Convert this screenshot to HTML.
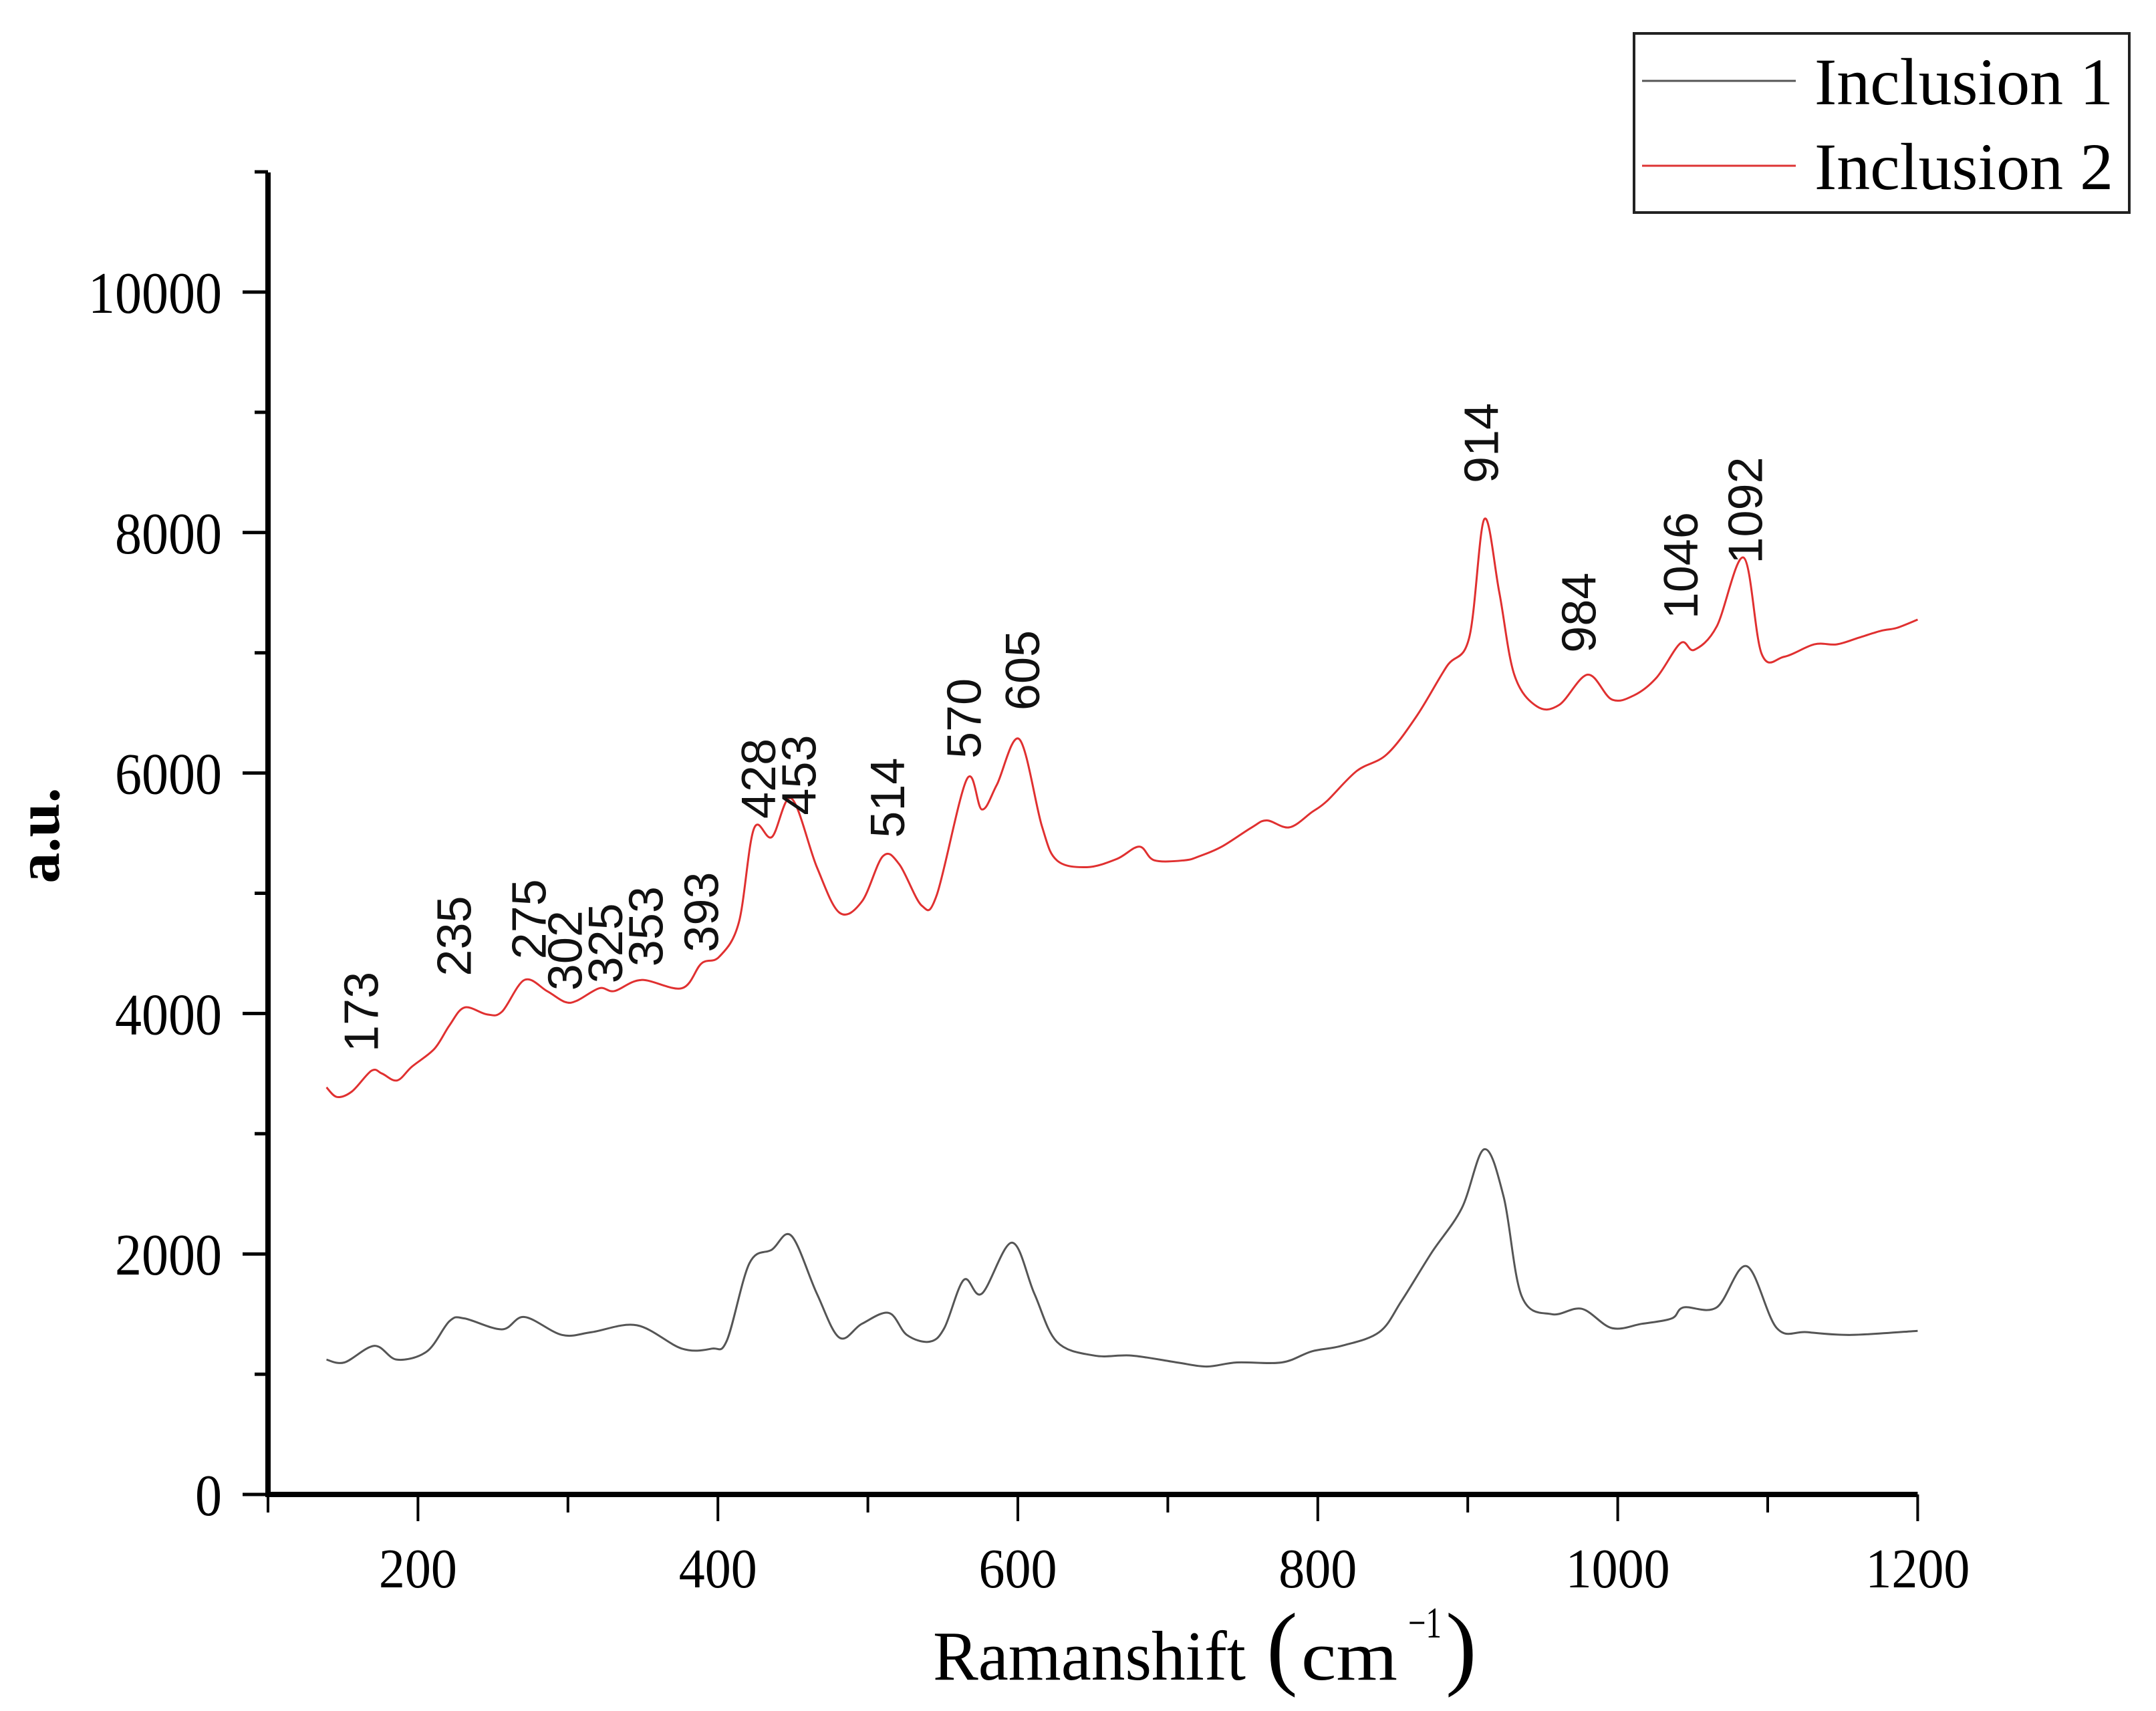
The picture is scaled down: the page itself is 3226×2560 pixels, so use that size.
<!DOCTYPE html>
<html><head><meta charset="utf-8"><style>
html,body{margin:0;padding:0;background:#fff;}
svg{display:block;}
</style></head><body>
<svg id="chart" width="3226" height="2560" viewBox="0 0 3226 2560" xmlns="http://www.w3.org/2000/svg">
  <g id="axes"></g>
  <g id="series"></g>
  <g id="peaks"></g>
  <text transform="translate(88,1250) rotate(-90)" text-anchor="middle" font-family="Liberation Serif, serif" font-weight="bold" font-size="92">a.u.</text>
  <g font-family="Liberation Serif, serif">
    <text x="1396" y="2513" font-size="105" textLength="468" lengthAdjust="spacingAndGlyphs">Ramanshift</text>
    <text x="1895" y="2510" font-size="140" font-weight="normal">(</text>
    <text x="1947" y="2513" font-size="105" textLength="144" lengthAdjust="spacingAndGlyphs">cm</text>
    <text x="2107" y="2450" font-size="66" textLength="50" lengthAdjust="spacingAndGlyphs">−1</text>
    <text x="2163" y="2510" font-size="140">)</text>
  </g>
  <g>
    <rect x="2445" y="50" width="741" height="268" fill="#fff" stroke="#222" stroke-width="4"/>
    <line x1="2457" y1="121" x2="2687" y2="121" stroke="#555" stroke-width="3"/>
    <text x="2715" y="156" font-family="Liberation Serif, serif" font-size="100">Inclusion 1</text>
    <line x1="2457" y1="248" x2="2687" y2="248" stroke="#d33" stroke-width="3"/>
    <text x="2715" y="283" font-family="Liberation Serif, serif" font-size="100">Inclusion 2</text>
  </g>
</svg>
<script>
const xs1 = [139,151,171,186,206,221,231,256,271,296,316,346,376,396,406,421,436,449,466,481,496,514,526,541,551,564,576,596,611,626,651,676,706,726,746,776,796,816,841,856,876,896,911,924,936,956,976,996,1016,1036,1044,1066,1086,1106,1126,1156,1200];
const inclusion1 = [1121,1098,1236,1121,1190,1441,1464,1373,1476,1327,1350,1407,1213,1213,1281,1922,2036,2151,1670,1304,1419,1510,1327,1270,1384,1785,1670,2094,1670,1270,1155,1155,1098,1064,1098,1098,1190,1236,1350,1613,2013,2380,2871,2471,1647,1499,1544,1384,1419,1464,1556,1556,1899,1384,1350,1327,1361];
const xs2 = [139,146,156,169,176,186,196,211,221,231,246,256,271,286,298,306,321,331,349,376,389,401,414,424,436,449,466,481,496,510,521,536,546,566,576,586,601,616,626,646,666,681,691,711,721,736,756,766,781,796,806,826,846,866,886,901,911,921,931,946,961,980,996,1011,1026,1042,1051,1066,1084,1096,1111,1131,1146,1161,1176,1186,1200];
const inclusion2 = [3386,3306,3352,3524,3501,3443,3558,3707,3901,4050,3993,4015,4279,4187,4096,4107,4210,4187,4279,4210,4416,4473,4759,5537,5468,5789,5217,4839,4931,5308,5240,4896,4988,5949,5697,5903,6281,5560,5274,5217,5285,5388,5274,5274,5308,5388,5548,5606,5548,5674,5766,6017,6155,6475,6887,7127,8111,7505,6818,6555,6567,6818,6612,6647,6795,7081,7024,7219,7791,6990,6967,7070,7070,7127,7184,7207,7276];
const peakLabels = ["173","235","275","302","325","353","393","428","453","514","570","605","914","984","1046","1092"];
const peakX = [167,229,279,303,330,357,394,432,459,518,569,608,914,979,1047,1090];
const peakY = [3680,4310,4450,4190,4250,4390,4510,5620,5650,5460,6120,6520,8410,7000,7280,7740];
const xTicks = [200,400,600,800,1000,1200];
const yTicks = [0,2000,4000,6000,8000,10000];

const NS = "http://www.w3.org/2000/svg";
const X0 = 401, XPER = 2.244;
const Y0 = 2236, YPER = 0.1799;
const sx = v => X0 + (v - 100) * XPER;
const sy = v => Y0 - v * YPER;
function mk(tag, attrs, parent){ const e=document.createElementNS(NS,tag); for(const k in attrs) e.setAttribute(k,attrs[k]); parent.appendChild(e); return e; }

const axes = document.getElementById('axes');
let yl = mk('line',{x1:X0,y1:258,x2:X0,y2:Y0+4,stroke:'#000','stroke-width':8},axes);


let xl = mk('line',{x1:X0-4,y1:Y0,x2:sx(1200),y2:Y0,stroke:'#000','stroke-width':8},axes);


for(let v=100; v<=1200; v+=100){
  const major = v%200===0;
  const t = mk('line',{x1:sx(v),y1:Y0,x2:sx(v),y2:Y0+(major?40:27),stroke:'#000','stroke-width':4},axes);
  
  
}
xTicks.forEach(v=>{
  const s = String(v);
  const t = mk('text',{x:sx(v),y:2375,'text-anchor':'middle','font-family':'Liberation Serif, serif','font-size':84,textLength:39*s.length,lengthAdjust:'spacingAndGlyphs'},axes);
  t.textContent = s;
  
  
});
for(let v=1000; v<=11000; v+=2000){
  const t = mk('line',{x1:X0-20,y1:sy(v),x2:X0,y2:sy(v),stroke:'#000','stroke-width':5},axes);
  
  
}
yTicks.forEach(v=>{
  const t = mk('line',{x1:X0-38,y1:sy(v),x2:X0,y2:sy(v),stroke:'#000','stroke-width':5},axes);
  
  
  const s = String(v);
  const l = mk('text',{x:332,y:sy(v)+31,'text-anchor':'end','font-family':'Liberation Serif, serif','font-size':88,textLength:40*s.length,lengthAdjust:'spacingAndGlyphs'},axes);
  l.textContent = s;
  
  
});

function smoothPath(xs, ys){
  const p = xs.map((x,i)=>[sx(x), sy(ys[i])]);
  let d = 'M'+p[0][0].toFixed(1)+','+p[0][1].toFixed(1);
  for(let i=0;i<p.length-1;i++){
    const a=p[Math.max(0,i-1)], b=p[i], c=p[i+1], e=p[Math.min(p.length-1,i+2)];
    const c1=[b[0]+(c[0]-a[0])/6, b[1]+(c[1]-a[1])/6];
    const c2=[c[0]-(e[0]-b[0])/6, c[1]-(e[1]-b[1])/6];
    d += ' C'+c1.map(n=>n.toFixed(1))+' '+c2.map(n=>n.toFixed(1))+' '+c[0].toFixed(1)+','+c[1].toFixed(1);
  }
  return d;
}
const series = document.getElementById('series');
const p1 = mk('path',{d:smoothPath(xs1,inclusion1),fill:'none',stroke:'#555','stroke-width':3},series);


const p2 = mk('path',{d:smoothPath(xs2,inclusion2),fill:'none',stroke:'#e03030','stroke-width':3},series);



const peaks = document.getElementById('peaks');
peakLabels.forEach((s,i)=>{
  const x = sx(peakX[i]) + 14, y = sy(peakY[i]);
  const t = mk('text',{transform:`translate(${x.toFixed(1)},${y.toFixed(1)}) rotate(-90)`,'font-family':'Liberation Sans, sans-serif','font-size':72,fill:'#111'},peaks);
  t.textContent = s;
  
  
});
</script>
</body></html>
